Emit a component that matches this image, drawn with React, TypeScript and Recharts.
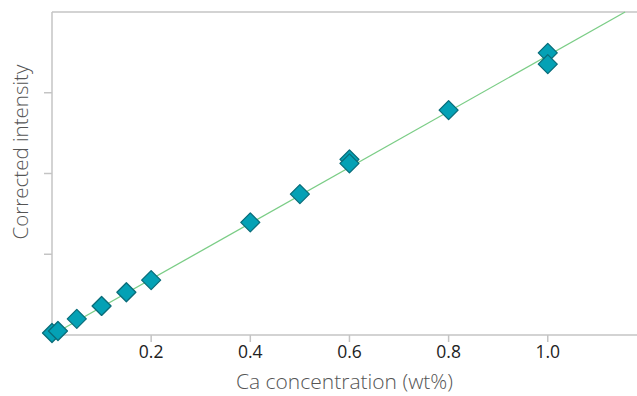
import { ComposedChart, ReferenceLine, Scatter, XAxis, YAxis } from "recharts";

const concentration = [0, 0.012, 0.05, 0.1, 0.15, 0.2, 0.4, 0.5, 0.6, 0.6, 0.8, 1.0, 1.0];
const intensity = [0.025, 0.05, 0.2, 0.36, 0.53, 0.68, 1.395, 1.745, 2.175, 2.125, 2.785, 3.494, 3.354];
const fitX = [0, 1.156];
const fitY = [0, 4.0];
const xTicks = [0.2, 0.4, 0.6, 0.8, 1.0];
const yTicks = [1, 2, 3];

const points = concentration.map((x, i) => ({ x, y: intensity[i] }));
const fit = fitX.map((x, i) => ({ x, y: fitY[i] }));

const FONT = "'Open Sans', sans-serif";
const AXIS = "#c4c4c4";

function Diamond(props: any) {
  const { cx, cy } = props;
  const r = 9.5;
  return (
    <polygon
      points={`${cx},${cy - r} ${cx + r},${cy} ${cx},${cy + r} ${cx - r},${cy}`}
      fill="#04a1b5"
      stroke="#0a6c79"
      strokeWidth={1.3}
      strokeLinejoin="round"
    />
  );
}

export default function App() {
  return (
    <div style={{ position: "absolute", left: 0, top: 0, fontFamily: FONT }}>
      <ComposedChart width={637} height={396} margin={{ top: 12, right: 0, bottom: 0, left: 0 }}>
        <XAxis
          type="number"
          dataKey="x"
          domain={[0, 1.18]}
          ticks={xTicks}
          tickFormatter={(v: number) => v.toFixed(1)}
          height={61}
          tickSize={7}
          tickMargin={4}
          stroke={AXIS}
          strokeWidth={1.5}
          tick={{ fill: "#222", fontSize: 17.5, fontFamily: FONT }}
          label={{
            value: "Ca concentration (wt%)",
            position: "insideBottom",
            offset: 7,
            fill: "#555",
            fontSize: 21,
            fontFamily: FONT,
            fontWeight: 300,
          }}
        />
        <YAxis
          type="number"
          dataKey="y"
          domain={[0, 4]}
          ticks={yTicks}
          tickFormatter={() => ""}
          width={52}
          tickSize={8}
          stroke={AXIS}
          strokeWidth={1.5}
          label={{
            content: () => (
              <text
                transform="translate(28,152) rotate(-90)"
                textAnchor="middle"
                fill="#555"
                fontSize={20.5}
                fontFamily={FONT}
                fontWeight={300}
              >
                Corrected intensity
              </text>
            ),
          }}
        />
        <ReferenceLine y={4} stroke={AXIS} strokeWidth={1.5} />
        <Scatter
          data={fit}
          line={{ stroke: "#7bcd86", strokeWidth: 1.3 }}
          shape={() => null}
          isAnimationActive={false}
        />
        <Scatter data={points} shape={<Diamond />} isAnimationActive={false} />
      </ComposedChart>
    </div>
  );
}
